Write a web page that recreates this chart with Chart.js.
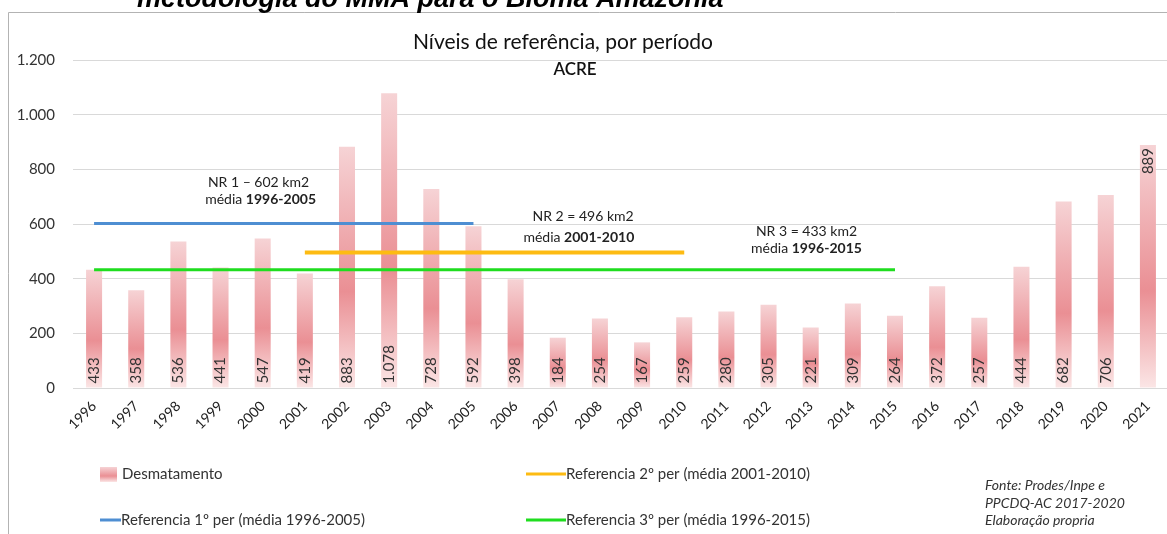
<!DOCTYPE html>
<html>
<head>
<meta charset="utf-8">
<script src="https://cdn.jsdelivr.net/npm/chart.js@4"></script>
<style>
  html, body { margin: 0; padding: 0; background: #fff; overflow: hidden; }
  #wrap { position: relative; width: 1190px; height: 534px; }
</style>
</head>
<body>
<div id="wrap"><canvas id="acreChart"></canvas></div>
<script>
const years = ['1996','1997','1998','1999','2000','2001','2002','2003','2004','2005','2006','2007','2008',
               '2009','2010','2011','2012','2013','2014','2015','2016','2017','2018','2019','2020','2021'];
const desmatamento = [433, 358, 536, 441, 547, 419, 883, 1078, 728, 592, 398, 184, 254,
                      167, 259, 280, 305, 221, 309, 264, 372, 257, 444, 682, 706, 889];
const yTicks = [0, 200, 400, 600, 800, 1000, 1200];

// reference levels: value and the period they span
const ref1 = { value: 602, from: '1996', to: '2005' };
const ref2 = { value: 496, from: '2001', to: '2010' };
const ref3 = { value: 433, from: '1996', to: '2015' };

const FONT = 'Lato, "Open Sans", sans-serif';

function fmt(v) {
    return String(v).replace(/\B(?=(\d{3})+(?!\d))/g, '.');
}

function barGradient(ctx, top, base) {
    const g = ctx.createLinearGradient(0, top, 0, base);
    g.addColorStop(0, '#f6d3d5');
    g.addColorStop(0.6, '#ea8f94');
    g.addColorStop(1, '#fbe6e6');
    return g;
}

function refLine(r) {
    return [{ x: r.from, y: r.value }, { x: r.to, y: r.value }];
}

const extras = {
    id: 'extras',
    afterDatasetsDraw(chart) {
        const c = chart.ctx;
        // value labels inside bars
        c.save();
        c.fillStyle = '#333';
        c.font = '15px ' + FONT;
        c.textBaseline = 'middle';
        chart.getDatasetMeta(3).data.forEach((bar, i) => {
            c.save();
            c.translate(bar.x, 0);
            c.rotate(-Math.PI / 2);
            if (i === desmatamento.length - 1) {
                c.textAlign = 'right';
                c.fillText(fmt(desmatamento[i]), -bar.y - 3, 0);
            } else {
                c.textAlign = 'left';
                c.fillText(fmt(desmatamento[i]), -bar.base + 4, 0);
            }
            c.restore();
        });
        c.restore();
    },
    afterDraw(chart) {
        const c = chart.ctx;
        const xs = chart.scales.x, ys = chart.scales.y;
        c.save();
        // frame
        c.strokeStyle = '#b3b3b3';
        c.lineWidth = 1;
        c.beginPath();
        c.moveTo(8.5, 540);
        c.lineTo(8.5, 12.5);
        c.lineTo(1200, 12.5);
        c.stroke();

        // clipped heading above the frame
        c.fillStyle = '#000';
        c.font = 'italic bold 27px "Liberation Sans", Arial, sans-serif';
        c.textAlign = 'left';
        c.textBaseline = 'alphabetic';
        c.fillText('metodologia do MMA para o Bioma Amazônia', 137, 7);

        // title
        c.fillStyle = '#111';
        c.textAlign = 'center';
        c.textBaseline = 'middle';
        c.font = '21px ' + FONT;
        c.fillText('Níveis de referência, por período', 563, 42);
        c.font = '600 17px ' + FONT;
        c.fillText('ACRE', 575, 70);

        // reference annotations
        function plain(xc, y, txt) {
            c.font = '14px ' + FONT;
            c.textAlign = 'center';
            c.fillText(txt, xc, y);
        }
        function mixed(xc, y, txt, bold) {
            c.font = '14px ' + FONT;
            const w1 = c.measureText(txt).width;
            c.font = 'bold 14px ' + FONT;
            const w2 = c.measureText(bold).width;
            const x = xc - (w1 + w2) / 2;
            c.textAlign = 'left';
            c.font = '14px ' + FONT;
            c.fillText(txt, x, y);
            c.font = 'bold 14px ' + FONT;
            c.fillText(bold, x + w1, y);
        }
        c.fillStyle = '#222';
        plain(xs.getPixelForValue(3.9), ys.getPixelForValue(753), 'NR 1 – 602 km2');
        mixed(xs.getPixelForValue(3.95), ys.getPixelForValue(688), 'média ', '1996-2005');
        plain(xs.getPixelForValue(11.6), ys.getPixelForValue(626), 'NR 2 = 496 km2');
        mixed(xs.getPixelForValue(11.5), ys.getPixelForValue(549), 'média ', '2001-2010');
        plain(xs.getPixelForValue(16.9), ys.getPixelForValue(571), 'NR 3 = 433 km2');
        mixed(xs.getPixelForValue(16.9), ys.getPixelForValue(512), 'média ', '1996-2015');

        // legend
        c.font = '15px ' + FONT;
        c.textAlign = 'left';
        c.fillStyle = barGradient(c, 467, 482);
        c.fillRect(100, 467, 17, 15);
        c.fillStyle = '#333';
        c.fillText(chart.data.datasets[3].label, 122, 474);
        const legendLines = [
            { ds: 1, x1: 526, x2: 566, y: 474 },
            { ds: 0, x1: 100, x2: 121, y: 520 },
            { ds: 2, x1: 526, x2: 566, y: 520 }
        ];
        legendLines.forEach(l => {
            const d = chart.data.datasets[l.ds];
            c.strokeStyle = d.borderColor;
            c.lineWidth = 3;
            c.beginPath();
            c.moveTo(l.x1, l.y);
            c.lineTo(l.x2, l.y);
            c.stroke();
            c.fillStyle = '#333';
            c.fillText(d.label, l.x2, l.y);
        });

        // source note
        c.font = 'italic 14px ' + FONT;
        c.fillStyle = '#333';
        c.fillText('Fonte: Prodes/Inpe e', 985, 485);
        c.fillText('PPCDQ-AC 2017-2020', 985, 503);
        c.fillText('Elaboração propria', 985, 520);
        c.restore();
    }
};

new Chart(document.getElementById('acreChart'), {
    data: {
        labels: years,
        datasets: [{
            type: 'line',
            label: 'Referencia 1º per (média 1996-2005)',
            data: refLine(ref1),
            borderColor: '#4e8ed2',
            borderWidth: 3,
            pointRadius: 0,
            order: 1
        }, {
            type: 'line',
            label: 'Referencia 2º per (média 2001-2010)',
            data: refLine(ref2),
            borderColor: '#fdbb12',
            borderWidth: 4,
            pointRadius: 0,
            order: 1
        }, {
            type: 'line',
            label: 'Referencia 3º per (média 1996-2015)',
            data: refLine(ref3),
            borderColor: '#1fdd1f',
            borderWidth: 3,
            pointRadius: 0,
            order: 1
        }, {
            type: 'bar',
            label: 'Desmatamento',
            data: desmatamento,
            backgroundColor: ctx => {
                const chart = ctx.chart;
                if (!chart.chartArea) return '#eeb0b3';
                const ys = chart.scales.y;
                return barGradient(chart.ctx, ys.getPixelForValue(desmatamento[ctx.dataIndex]), ys.getPixelForValue(0));
            },
            barPercentage: 0.38,
            categoryPercentage: 1,
            order: 5
        }]
    },
    options: {
        responsive: true,
        maintainAspectRatio: false,
        animation: false,
        layout: { padding: { top: 60, right: 21, left: 0, bottom: 0 } },
        plugins: {
            legend: { display: false },
            tooltip: { enabled: false }
        },
        scales: {
            x: {
                grid: { display: false },
                border: { display: false },
                ticks: {
                    color: '#222',
                    font: { family: FONT, size: 14 },
                    minRotation: 45,
                    maxRotation: 45,
                    autoSkip: false,
                    padding: 2
                },
                afterFit: s => { s.height = 146; }
            },
            y: {
                min: 0,
                max: 1200,
                afterBuildTicks: s => { s.ticks = yTicks.map(v => ({ value: v })); },
                grid: { color: '#d9d9d9', drawTicks: false },
                border: { display: false },
                ticks: {
                    color: '#333',
                    font: { family: FONT, size: 15 },
                    padding: 18,
                    callback: v => fmt(v)
                },
                afterFit: s => { s.width = 73; }
            }
        }
    },
    plugins: [extras]
});
</script>
</body>
</html>
